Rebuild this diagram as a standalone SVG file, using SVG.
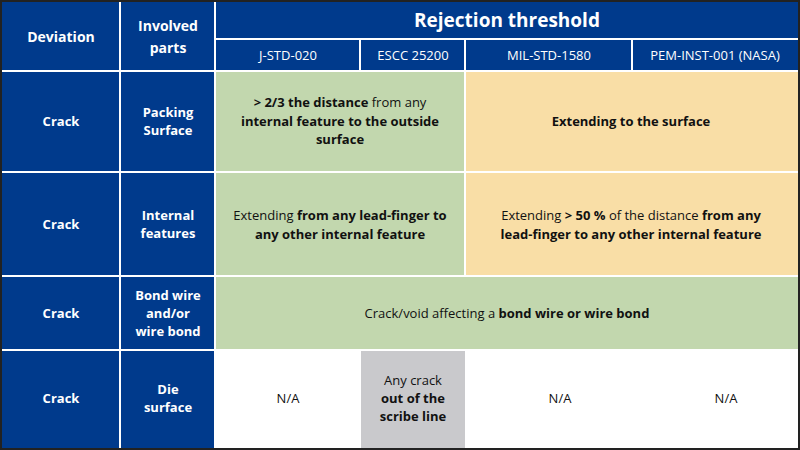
<svg xmlns="http://www.w3.org/2000/svg" width="800" height="450" viewBox="0 0 800 450">
<style>
.b{fill:#003a8c}.g{fill:#c2d7ae}.o{fill:#f9dea6}.w{fill:#fff}.y{fill:#c9c9cc}
text{font-family:"Open Sans","Noto Sans","DejaVu Sans",sans-serif;font-size:13px;text-anchor:middle}
.h{fill:#fff;font-weight:bold}.s{fill:#fff}.k{fill:#111}.bd{font-weight:bold}
.ln{stroke:#fff;stroke-width:2}
</style>
<rect x="0" y="0" width="800" height="450" fill="#222"/>
<g id="header">
<rect class="b" x="2" y="2" width="796" height="69"/>
<text class="h" x="61" y="42" style="font-size:14px">Deviation</text>
<text class="h" x="168" y="31" style="font-size:14px">Involved</text>
<text class="h" x="168" y="53" style="font-size:14px">parts</text>
<text class="h" x="507" y="27" style="font-size:19px">Rejection threshold</text>
<text class="s" x="288" y="60">J-STD-020</text>
<text class="s" x="413" y="60">ESCC 25200</text>
<text class="s" x="549" y="60">MIL-STD-1580</text>
<text class="s" x="715" y="60">PEM-INST-001 (NASA)</text>
</g>
<g id="row1">
<rect class="b" x="2" y="71" width="214" height="101"/>
<rect class="g" x="216" y="71" width="249" height="101"/>
<rect class="o" x="465" y="71" width="333" height="101"/>
<text class="h" x="61" y="126">Crack</text>
<text class="h" x="168" y="117">Packing</text>
<text class="h" x="168" y="135">Surface</text>
<text class="k" x="340" y="107"><tspan class="bd">&gt; 2/3 the distance</tspan> from any</text>
<text class="k bd" x="340" y="126">internal feature to the outside</text>
<text class="k bd" x="340" y="144">surface</text>
<text class="k bd" x="631" y="126">Extending to the surface</text>
</g>
<g id="row2">
<rect class="b" x="2" y="172" width="214" height="104"/>
<rect class="g" x="216" y="172" width="249" height="104"/>
<rect class="o" x="465" y="172" width="333" height="104"/>
<text class="h" x="61" y="229">Crack</text>
<text class="h" x="168" y="220">Internal</text>
<text class="h" x="168" y="238">features</text>
<text class="k" x="340" y="220">Extending <tspan class="bd">from any lead-finger to</tspan></text>
<text class="k bd" x="340" y="239">any other internal feature</text>
<text class="k" x="631" y="220">Extending <tspan class="bd">&gt; 50 %</tspan> of the distance <tspan class="bd">from any</tspan></text>
<text class="k bd" x="631" y="239">lead-finger to any other internal feature</text>
</g>
<g id="row3">
<rect class="b" x="2" y="276" width="214" height="74"/>
<rect class="g" x="216" y="276" width="582" height="74"/>
<text class="h" x="61" y="318">Crack</text>
<text class="h" x="168" y="300">Bond wire</text>
<text class="h" x="168" y="318">and/or</text>
<text class="h" x="168" y="336">wire bond</text>
<text class="k" x="507" y="318">Crack/void affecting a <tspan class="bd">bond wire or wire bond</tspan></text>
</g>
<g id="row4">
<rect class="b" x="2" y="350" width="214" height="98"/>
<rect class="w" x="216" y="350" width="582" height="98"/>
<rect class="y" x="361" y="350" width="104" height="98"/>
<text class="h" x="61" y="403">Crack</text>
<text class="h" x="168" y="394">Die</text>
<text class="h" x="168" y="412">surface</text>
<text class="k" x="288" y="403">N/A</text>
<text class="k" x="413" y="385">Any crack</text>
<text class="k bd" x="413" y="403">out of the</text>
<text class="k bd" x="413" y="421">scribe line</text>
<text class="k" x="560" y="403">N/A</text>
<text class="k" x="726" y="403">N/A</text>
</g>
<g id="grid">
<path class="ln" d="M120 2V448M215 2V448M215 39H798M360 39V71M465 39V71M632 39V71M2 71H798M2 172H798M2 276H798M2 350H798M465 71V276"/>
</g>
</svg>
